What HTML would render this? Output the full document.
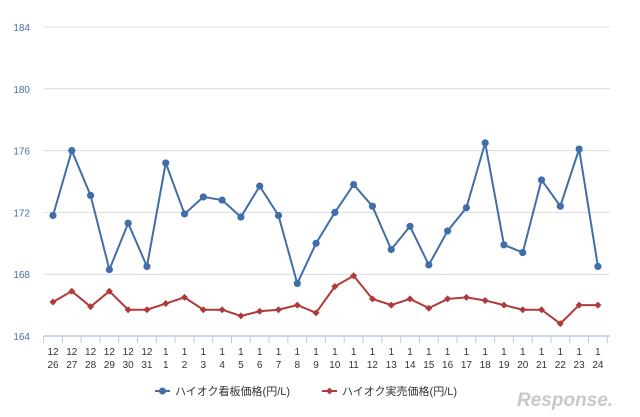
<!DOCTYPE html>
<html><head><meta charset="utf-8"><style>
html,body{margin:0;padding:0;background:#fff;width:640px;height:417px;overflow:hidden}
text{font-family:"Liberation Sans","Noto Sans CJK JP",sans-serif}
</style></head><body>
<svg id="c" width="640" height="417" xmlns="http://www.w3.org/2000/svg"></svg>
<script>
(function(){
const B=[171.8,176.0,173.1,168.3,171.3,168.5,175.2,171.9,173.0,172.8,171.7,173.7,171.8,167.4,170.0,172.0,173.8,172.4,169.6,171.1,168.6,170.8,172.3,176.5,169.9,169.4,174.1,172.4,176.1,168.5];
const R=[166.2,166.9,165.9,166.9,165.7,165.7,166.1,166.5,165.7,165.7,165.3,165.6,165.7,166.0,165.5,167.2,167.9,166.4,166.0,166.4,165.8,166.4,166.5,166.3,166.0,165.7,165.7,164.8,166.0,166.0];
const tops=["12","12","12","12","12","12"].concat(Array(24).fill("1"));
const bot=["26","27","28","29","30","31"];for(let i=1;i<=24;i++)bot.push(""+i);
const Y=v=>336-(v-164)*15.45, X=i=>53+i*18.79;
let s='';
for(const v of [168,172,176,180,184]){s+=`<line x1="44" x2="610" y1="${Y(v)}" y2="${Y(v)}" stroke="#dcdcdc" stroke-width="1"/>`;}
for(const v of [164,168,172,176,180,184]){s+=`<text x="30" y="${Y(v)+4}" font-size="10" fill="#4a70a8" text-anchor="end">${v}</text>`;}
s+=`<line x1="44" x2="610" y1="336" y2="336" stroke="#b8cce4" stroke-width="1.5"/>`;
for(let i=0;i<=30;i++){const x=X(i)-9.4;s+=`<line x1="${x}" x2="${x}" y1="336" y2="343" stroke="#b8cce4"/>`;}
for(let i=0;i<30;i++){s+=`<text x="${X(i)}" y="355" font-size="10" fill="#333" text-anchor="middle">${tops[i]}</text><text x="${X(i)}" y="368" font-size="10" fill="#333" text-anchor="middle">${bot[i]}</text>`;}
s+=`<polyline fill="none" stroke="#3f6ea8" stroke-width="2" points="${B.map((v,i)=>X(i)+','+Y(v)).join(' ')}"/>`;
B.forEach((v,i)=>s+=`<circle cx="${X(i)}" cy="${Y(v)}" r="3.6" fill="#3f6ea8"/>`);
s+=`<polyline fill="none" stroke="#b03a3a" stroke-width="2" points="${R.map((v,i)=>X(i)+','+Y(v)).join(' ')}"/>`;
R.forEach((v,i)=>{const x=X(i),y=Y(v);s+=`<polygon points="${x},${y-3.5} ${x+3.5},${y} ${x},${y+3.5} ${x-3.5},${y}" fill="#b03a3a"/>`;});
s+=`<line x1="155" x2="170" y1="391" y2="391" stroke="#3f6ea8" stroke-width="2"/><circle cx="162.5" cy="391" r="3.5" fill="#3f6ea8"/>
<text x="175" y="395" font-size="11" fill="#333">ハイオク看板価格(円/L)</text>
<line x1="322" x2="337" y1="391" y2="391" stroke="#b03a3a" stroke-width="2"/><polygon points="329.5,387.5 333,391 329.5,394.5 326,391" fill="#b03a3a"/>
<text x="342" y="395" font-size="11" fill="#333">ハイオク実売価格(円/L)</text>
<text x="517" y="406" font-size="19" fill="#c8c8c8" font-style="italic" font-weight="bold">Response.</text>`;
document.getElementById('c').innerHTML=s;
})();
</script>
</body></html>
